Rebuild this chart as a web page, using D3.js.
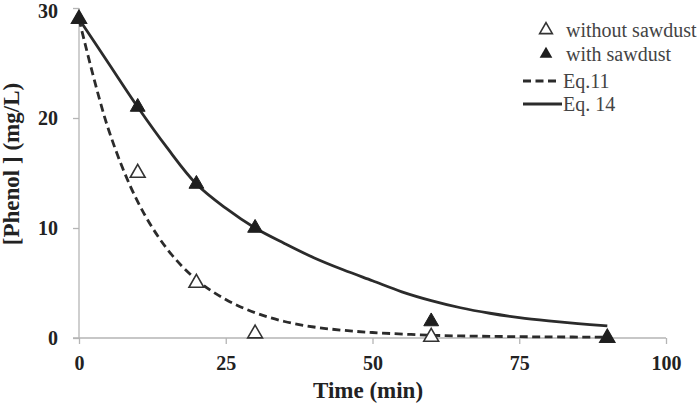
<!DOCTYPE html>
<html><head><meta charset="utf-8">
<script src="https://cdn.jsdelivr.net/npm/d3@7"></script>
<style>body{margin:0;background:#fff}svg{display:block}</style>
</head><body>
<svg id="c" width="700" height="404"></svg>
<script>
const xTicks = [0, 25, 50, 75, 100];
const yTicks = [0, 10, 20, 30];
const withoutT = [0, 10, 20, 30, 60, 90];
const withoutV = [29, 15, 5, 0.4, 0.1, 0];
const withT = [0, 10, 20, 30, 60, 90];
const withV = [29, 21, 14, 10, 1.5, 0];
const eq11T = [0, 5, 10, 15, 20, 25, 30, 35, 40, 45, 50, 60, 70, 80, 90];
const eq11V = [29, 19, 12.4, 8.1, 5.3, 3.5, 2.3, 1.5, 1.0, 0.7, 0.5, 0.25, 0.15, 0.1, 0.08];
const eq14T = [0, 5, 10, 15, 20, 25, 30, 35, 40, 45, 50, 55, 60, 65, 70, 75, 80, 85, 90];
const eq14V = [29, 25, 21, 17.3, 14, 11.8, 10, 8.6, 7.3, 6.2, 5.2, 4.2, 3.4, 2.75, 2.25, 1.85, 1.55, 1.3, 1.1];
const legendLabels = ["without sawdust", "with sawdust", "Eq.11", "Eq. 14"];

const svg = d3.select("#c");
const x = d3.scaleLinear().domain([0, 100]).range([79, 666]);
const y = d3.scaleLinear().domain([0, 30]).range([338, 8]);
const axisCol = "#b5b5b5";
const serif = "'Liberation Serif', 'Times New Roman', serif";

// axes
const xa = svg.append("g").attr("transform", "translate(0,338)")
  .call(d3.axisBottom(x).tickValues(xTicks).tickSize(6).tickPadding(12));
xa.select(".domain").attr("d", "M73,0H666").attr("stroke", axisCol).attr("stroke-width", 1.3);
xa.selectAll(".tick line").attr("stroke", axisCol).attr("stroke-width", 1.3);
xa.selectAll(".tick text").attr("font-family", serif).attr("font-weight", "bold")
  .attr("font-size", 20).attr("fill", "#222");

const ya = svg.append("g").attr("transform", "translate(79,0)")
  .call(d3.axisLeft(y).tickValues(yTicks).tickSize(6).tickPadding(15));
ya.select(".domain").attr("d", "M0,8V338").attr("stroke", axisCol).attr("stroke-width", 1.3);
ya.selectAll(".tick line").attr("stroke", axisCol).attr("stroke-width", 1.3);
ya.selectAll(".tick text").attr("font-family", serif).attr("font-weight", "bold")
  .attr("font-size", 20).attr("fill", "#222")
  .attr("y", d => d === 30 ? 3 : 0);

// titles
svg.append("text").attr("x", 368).attr("y", 398).attr("text-anchor", "middle")
  .attr("font-family", serif).attr("font-weight", "bold").attr("font-size", 23).attr("fill", "#222")
  .text("Time (min)");
svg.append("text").attr("transform", "translate(19,164) rotate(-90)").attr("text-anchor", "middle")
  .attr("font-family", serif).attr("font-weight", "bold").attr("font-size", 23).attr("fill", "#222")
  .text("[Phenol ] (mg/L)");

// curves
const line = d3.line().x(d => x(d[0])).y(d => y(d[1])).curve(d3.curveCatmullRom);
svg.append("path").datum(eq11T.map((t, i) => [t, eq11V[i]])).attr("d", line)
  .attr("fill", "none").attr("stroke", "#2b2b2b").attr("stroke-width", 2.8).attr("stroke-dasharray", "8,4.5");
svg.append("path").datum(eq14T.map((t, i) => [t, eq14V[i]])).attr("d", line)
  .attr("fill", "none").attr("stroke", "#2b2b2b").attr("stroke-width", 2.8);

// markers
const tri = d3.symbol().type(d3.symbolTriangle).size(95);
svg.selectAll(".wo").data(withoutT.map((t, i) => [t, withoutV[i]])).enter().append("path")
  .attr("d", tri).attr("transform", d => `translate(${x(d[0])},${y(d[1])})`)
  .attr("fill", "#fff").attr("stroke", "#333").attr("stroke-width", 1.6);
svg.selectAll(".wi").data(withT.map((t, i) => [t, withV[i]])).enter().append("path")
  .attr("d", tri).attr("transform", d => `translate(${x(d[0])},${y(d[1])})`)
  .attr("fill", "#1e1e1e").attr("stroke", "#1e1e1e").attr("stroke-width", 1);

// legend
const lg = svg.append("g");
const rowY = [30, 54, 81, 104];
const ltri = d3.symbol().type(d3.symbolTriangle).size(70);
lg.append("path").attr("d", ltri).attr("transform", `translate(546,${rowY[0]})`)
  .attr("fill", "#fff").attr("stroke", "#333").attr("stroke-width", 1.6);
lg.append("path").attr("d", ltri).attr("transform", `translate(546,${rowY[1]})`)
  .attr("fill", "#1e1e1e");
lg.append("line").attr("x1", 523).attr("x2", 559).attr("y1", rowY[2]).attr("y2", rowY[2])
  .attr("stroke", "#2b2b2b").attr("stroke-width", 2.8).attr("stroke-dasharray", "8,4.5");
lg.append("line").attr("x1", 523).attr("x2", 562).attr("y1", rowY[3]).attr("y2", rowY[3])
  .attr("stroke", "#2b2b2b").attr("stroke-width", 2.8);
const textX = [566, 566, 563, 563];
legendLabels.forEach((s, i) => {
  lg.append("text").attr("x", textX[i]).attr("y", rowY[i] + 7).attr("font-family", serif)
    .attr("font-size", 20).attr("fill", "#444").text(s);
});
</script>
</body></html>
